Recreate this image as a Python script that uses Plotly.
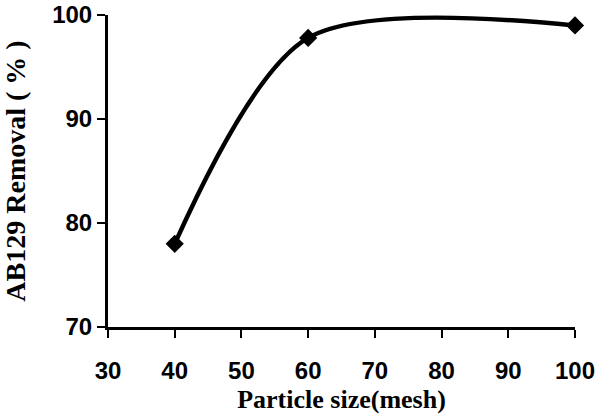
import plotly.graph_objects as go

# particle size (mesh) vs AB129 removal (%)
mesh = [40, 60, 100]
removal = [78.0, 97.8, 99.0]

x_ticks = [30, 40, 50, 60, 70, 80, 90, 100]
y_ticks = [70, 80, 90, 100]

fig = go.Figure()
fig.add_trace(go.Scatter(
    x=mesh, y=removal, mode="lines+markers",
    line=dict(color="black", width=4.5, shape="spline", smoothing=0.85),
    marker=dict(symbol="diamond", size=14, color="black"),
    showlegend=False, cliponaxis=False,
))

tick_font = dict(family="Liberation Sans, Arial", size=24, color="black", weight="bold")
title_font = dict(family="Liberation Serif, Times New Roman", size=26, color="black", weight="bold")

fig.update_xaxes(
    range=[30, 100], tickvals=x_ticks, ticks="outside", ticklen=8, tickwidth=2,
    tickcolor="black", showline=True, linecolor="black", linewidth=3,
    showgrid=False, zeroline=False, tickfont=tick_font, automargin=False,
    ticklabelstandoff=12,
    title=dict(text="Particle size(mesh)", font=title_font, standoff=8),
)
fig.update_yaxes(
    range=[70, 100], tickvals=y_ticks, ticks="outside", ticklen=8, tickwidth=2,
    tickcolor="black", showline=True, linecolor="black", linewidth=3,
    showgrid=False, zeroline=False, tickfont=tick_font, automargin=False,
    title=dict(text="AB129 Removal ( % )", font=dict(title_font, size=28), standoff=30),
)

fig.update_layout(
    width=600, height=415,
    margin=dict(l=108, r=25, t=15, b=88),
    plot_bgcolor="white", paper_bgcolor="white",
)

# drop the default 8px page margin so the figure fills the window
fig.write_html("out.html", config={"displayModeBar": False},
               post_script="document.body.style.margin='0px';")
